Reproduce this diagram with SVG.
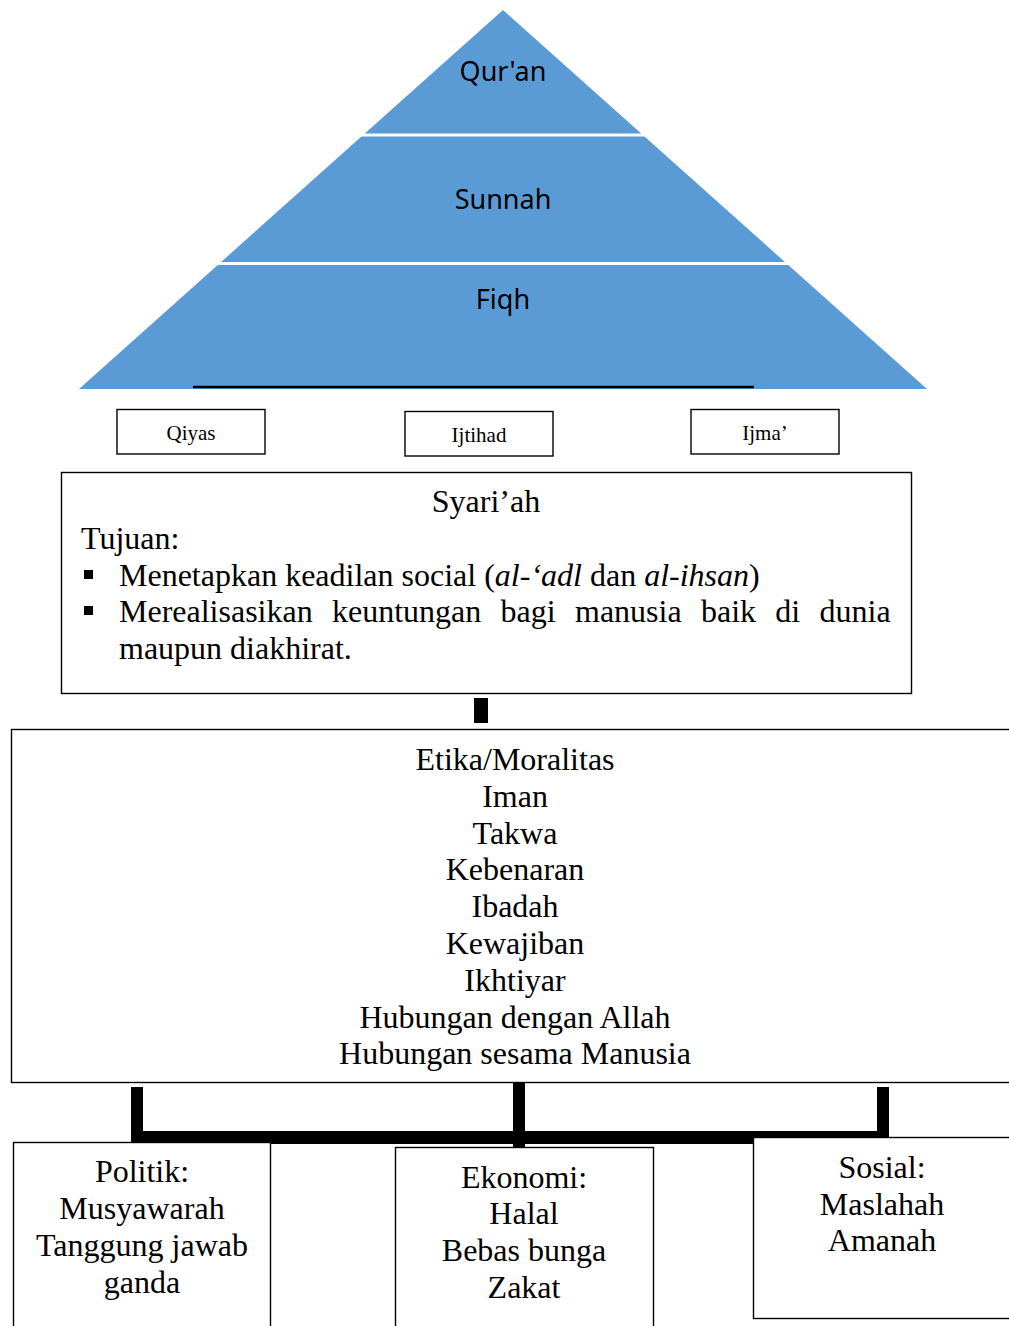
<svg xmlns="http://www.w3.org/2000/svg" width="1009" height="1326" viewBox="0 0 1009 1326">
<style>
.serif{font-family:"Liberation Serif","Times New Roman",serif;fill:#000}
.sans{font-family:"Noto Sans","Open Sans",sans-serif;font-size:27px;fill:#000;text-anchor:middle}
.box{fill:#fff;stroke:#000;stroke-width:1.4}
.small{font-size:21px;text-anchor:middle}
.big{font-size:32px}
.mid{text-anchor:middle}
</style>
<rect width="1009" height="1326" fill="#fff"/>
<g id="pyramid">
<polygon points="503,10 927,389 79,389" fill="#5B9BD5"/>
<line x1="300" y1="135" x2="706" y2="135" stroke="#fff" stroke-width="3"/>
<line x1="150" y1="263.5" x2="856" y2="263.5" stroke="#fff" stroke-width="3"/>
<text class="sans" x="503" y="81">Qur'an</text>
<text class="sans" x="503" y="209">Sunnah</text>
<text class="sans" x="503" y="309">Fiqh</text>
<line x1="193" y1="387" x2="754" y2="387" stroke="#000" stroke-width="2.5"/>
</g>
<g id="qiyas">
<rect class="box" x="117" y="409.5" width="148" height="44.5"/>
<text class="serif small" x="191" y="440">Qiyas</text>
</g>
<g id="ijtihad">
<rect class="box" x="405" y="411.5" width="148" height="44.5"/>
<text class="serif small" x="479" y="442">Ijtihad</text>
</g>
<g id="ijma">
<rect class="box" x="691" y="409.5" width="148" height="44.5"/>
<text class="serif small" x="765" y="440">Ijma’</text>
</g>
<g id="syariah">
<rect class="box" x="61.5" y="472.5" width="850" height="221"/>
<text class="serif big mid" x="486" y="512">Syari’ah</text>
<text class="serif big" x="81" y="549">Tujuan:</text>
<rect x="84" y="570" width="9" height="9" fill="#000"/>
<text class="serif big" x="119" y="586">Menetapkan keadilan social (<tspan font-style="italic">al-‘adl</tspan> dan <tspan font-style="italic">al-ihsan</tspan>)</text>
<rect x="84" y="606" width="9" height="9" fill="#000"/>
<text class="serif big" x="119" y="622" word-spacing="11.3">Merealisasikan keuntungan bagi manusia baik di dunia</text>
<text class="serif big" x="119" y="659">maupun diakhirat.</text>
</g>
<g id="connectors" fill="#000">
<rect x="474" y="698" width="14" height="25"/>
<rect x="131" y="1087" width="12" height="56"/>
<rect x="513" y="1080" width="12" height="67"/>
<rect x="877" y="1087" width="12" height="52"/>
<rect x="131" y="1131" width="758" height="13"/>
</g>
<g id="etika">
<rect class="box" x="11.5" y="729.5" width="1010" height="353"/>
<g class="serif big mid">
<text x="515" y="770">Etika/Moralitas</text>
<text x="515" y="807">Iman</text>
<text x="515" y="844">Takwa</text>
<text x="515" y="880">Kebenaran</text>
<text x="515" y="917">Ibadah</text>
<text x="515" y="954">Kewajiban</text>
<text x="515" y="991">Ikhtiyar</text>
<text x="515" y="1028">Hubungan dengan Allah</text>
<text x="515" y="1064">Hubungan sesama Manusia</text>
</g>
</g>
<g id="politik">
<rect class="box" x="13.5" y="1142.5" width="257" height="200"/>
<g class="serif big mid">
<text x="142" y="1182">Politik:</text>
<text x="142" y="1219">Musyawarah</text>
<text x="142" y="1256">Tanggung jawab</text>
<text x="142" y="1293">ganda</text>
</g>
</g>
<g id="ekonomi">
<rect class="box" x="395.5" y="1147.5" width="258" height="200"/>
<g class="serif big mid">
<text x="524" y="1188">Ekonomi:</text>
<text x="524" y="1224">Halal</text>
<text x="524" y="1261">Bebas bunga</text>
<text x="524" y="1298">Zakat</text>
</g>
</g>
<g id="sosial">
<rect class="box" x="753.5" y="1137.5" width="270" height="181"/>
<g class="serif big mid">
<text x="882" y="1178">Sosial:</text>
<text x="882" y="1215">Maslahah</text>
<text x="882" y="1251">Amanah</text>
</g>
</g>
</svg>
